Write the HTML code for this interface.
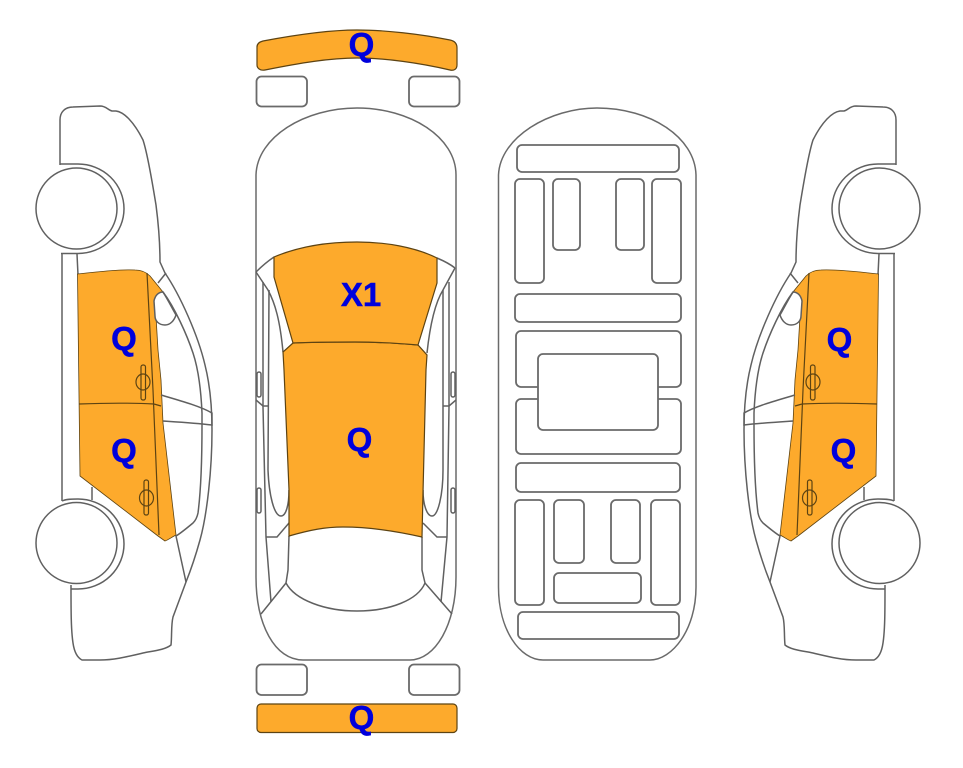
<!DOCTYPE html>
<html>
<head>
<meta charset="utf-8">
<style>
html,body{margin:0;padding:0;background:#fff;}
svg{display:block;}
text{font-family:"Liberation Sans",Arial,sans-serif;font-weight:bold;fill:#0000dc;stroke:#0000dc;stroke-width:.5;font-size:33px;text-anchor:middle;}
.l{fill:none;stroke:#606060;stroke-width:1.5;}
.g{fill:#fff;stroke:#6a6a6a;stroke-width:1.8;}
.o{fill:#fdaa2c;stroke:#5d4312;stroke-width:1.2;}
.d{fill:none;stroke:#5d4312;stroke-width:1.2;}
</style>
</head>
<body>
<svg width="963" height="768" viewBox="0 0 963 768" xmlns="http://www.w3.org/2000/svg">
<rect width="963" height="768" fill="#fff"/>
<defs>
<g id="side">
  <!-- body outline -->
  <path class="l" d="M60,165 L60,120 C60,112 65,107 73,107 L100,106 C106,106 108,110 112,111 L116,111 C124,112 134,122 143,140 C148,155 153,187 156,205 C159,228 160,245 160,262 L165,273 C180,295 198,335 205,365 C210,385 212,405 212,430 C212,470 207,515 200,540 C195,558 190,572 186,582 L173,617 C171,625 172,636 171,645 C165,650 152,651 143,653 C130,656 115,660 100,660 L82,660 C76,657 74,650 73,643 C71,630 71,610 71,585"/>
  <!-- arches -->
  <path class="l" d="M60,164 L78,164 A46,44.750 0 0 1 78,253.500 L61,253.500"/>
  <path class="l" d="M62,501 C66,499 72,499 78,499 A46,45 0 0 1 78,589 L71,589"/>
  <!-- wheels -->
  <circle class="l" cx="76.500" cy="208.500" r="40.500" style="fill:#fff"/>
  <circle class="l" cx="76.500" cy="543" r="40.500" style="fill:#fff"/>
  <!-- sills -->
  <path class="l" d="M62,254 L62,501 M77,254 L78,275 M92,487 L92,500"/>
  <!-- door panels -->
  <path class="o" style="stroke-width:.8" d="M77.500,274 C95,272 120,269 135,270 C142,270 147,273 150,276 L163,292 L155,300 L158,350 L161,380 L163,423 L176,535 C172,537 168,540 165,541 L158,536 L80,476 Z"/>
  <path class="d" d="M147,273 L153,390 L159,535 M79,404 C105,403 135,403 154,404 L161,406"/>
  <!-- handles -->
  <rect class="d" x="141" y="365" width="4.500" height="35" rx="2"/>
  <ellipse class="d" cx="143" cy="382" rx="7" ry="8"/>
  <rect class="d" x="144" y="480" width="4.500" height="35" rx="2"/>
  <ellipse class="d" cx="146.500" cy="498" rx="7" ry="8"/>
  <!-- window cut -->
  <path class="l" style="fill:#fff" d="M163,292 C168,300 172,308 176,315 C174,321 170,325 165,325 C159,325 155,321 155,316 L154,301 C155,296 158,292 163,292 Z"/>
  <!-- windshield band -->
  <path class="l" d="M166,273 L158,283 M163,292 C175,308 187,335 193,353 C198,368 201,390 202,413 L202,425 C202,455 201,490 198,513 C197,518 195,521 193,523 C187,528 181,533 176,536 L186,582"/>
  <!-- dashboard -->
  <path class="l" d="M161,395 C178,400 200,406 212,413 L212,425 C195,423 178,422 163,421"/>
</g>
</defs>

<use href="#side"/>
<use href="#side" transform="translate(956,0) scale(-1,1)"/>

<!-- top view -->
<path class="o" d="M263,41 C300,34 330,30 357,30 C385,30 420,34 450,40 C455,41 457,44 457,48 L457,65 C457,69 454,71 450,70 C420,63 385,58 357,58 C330,58 300,63 265,70 C260,71 257,68 257,65 L257,47 C257,44 259,42 263,41 Z"/>
<rect class="g" x="256.500" y="76.500" width="50.500" height="30" rx="5"/>
<rect class="g" x="409" y="76.500" width="50.500" height="30" rx="5"/>
<rect class="g" x="256.500" y="664.500" width="50.500" height="30.500" rx="5"/>
<rect class="g" x="409" y="664.500" width="50.500" height="30.500" rx="5"/>
<rect class="o" x="257" y="704" width="200" height="28.500" rx="4"/>

<path class="g" style="stroke-width:1.5" d="M256,175 C257,137 305,108 357,108 C410,108 456,137 456,175 L456,577 C456,625 435,660 410,660 L303,660 C275,660 256,625 256,577 Z"/>

<!-- interior lines -->
<path class="l" d="M256,272 C262,266 268,261 274,257 M437,258 C444,261 450,264 455,268"/>
<path class="l" d="M256,272 L268,290 C275,303 280,320 283,352 M455,268 L443,290 C435,303 430,325 427,353"/>
<path class="l" d="M263,282 L263,407 L266,537 L271,602 M449,282 L449,407 L447,537 L441,602"/>
<path class="l" d="M269,290 L268,470 C269,495 274,516 281,516 C286,516 289,505 289,490 M443,290 L443,470 C443,495 438,516 432,516 C427,516 423,505 423,490"/>
<path class="l" d="M256,400 L263,406 L269,406 M456,400 L449,406 L443,406"/>
<path class="l" d="M266,537 L277,537 L289,523 M447,537 L437,537 L423,523"/>
<path class="l" d="M289,536 L288,570 L286,583 C295,600 325,611 357,611 C390,611 418,600 425,583 L422,570 L422,537"/>
<path class="l" d="M286,583 L261,614 M425,583 L452,614"/>
<rect class="l" x="257" y="372" width="4" height="25" rx="2"/>
<rect class="l" x="257" y="488" width="4" height="25" rx="2"/>
<rect class="l" x="451" y="372" width="4" height="25" rx="2"/>
<rect class="l" x="451" y="488" width="4" height="25" rx="2"/>

<!-- roof & lid -->
<path class="o" d="M293,343 L283,352 L284,370 L289,490 L289,536 C310,530 325,527 343,527 C370,527 400,532 422,537 L423,493 L426,370 L427,355 L418,345 C395,343 375,342 355,342 C335,342 315,342 293,343 Z"/>
<path class="o" d="M274,257 C300,246 330,242 357,242 C385,242 415,247 437,258 L437,283 L418,345 C395,343 375,342 355,342 C335,342 315,342 293,343 L274,277 Z"/>

<!-- interior / underside view -->
<path class="g" style="stroke-width:1.5" d="M498.500,175 C500,137 550,108 597,108 C650,108 695,137 696,175 L696,587 C696,630 672,660 650,660 L543,660 C520,660 498.500,630 498.500,587 Z"/>
<rect class="g" x="517" y="145" width="162" height="27" rx="5"/>
<rect class="g" x="515" y="179" width="29" height="104" rx="5"/>
<rect class="g" x="553" y="179" width="27" height="71" rx="5"/>
<rect class="g" x="616" y="179" width="28" height="71" rx="5"/>
<rect class="g" x="652" y="179" width="29" height="104" rx="5"/>
<rect class="g" x="515" y="294" width="166" height="28" rx="5"/>
<rect class="g" x="516" y="331" width="165" height="56" rx="5"/>
<rect class="g" x="516" y="399" width="165" height="55" rx="5"/>
<rect class="g" x="538" y="354" width="120" height="76" rx="5"/>
<rect class="g" x="516" y="463" width="164" height="29" rx="5"/>
<rect class="g" x="515" y="500" width="29" height="105" rx="5"/>
<rect class="g" x="554" y="500" width="30" height="63" rx="5"/>
<rect class="g" x="611" y="500" width="29" height="63" rx="5"/>
<rect class="g" x="651" y="500" width="29" height="105" rx="5"/>
<rect class="g" x="554" y="573" width="87" height="30" rx="5"/>
<rect class="g" x="518" y="612" width="161" height="27" rx="5"/>

<!-- labels -->
<text x="361.500" y="56">Q</text>
<text x="361" y="306">X1</text>
<text x="359.500" y="451">Q</text>
<text x="361.500" y="729">Q</text>
<text x="124" y="350">Q</text>
<text x="124" y="462">Q</text>
<text x="839.500" y="351">Q</text>
<text x="843.500" y="462">Q</text>
</svg>
</body>
</html>
